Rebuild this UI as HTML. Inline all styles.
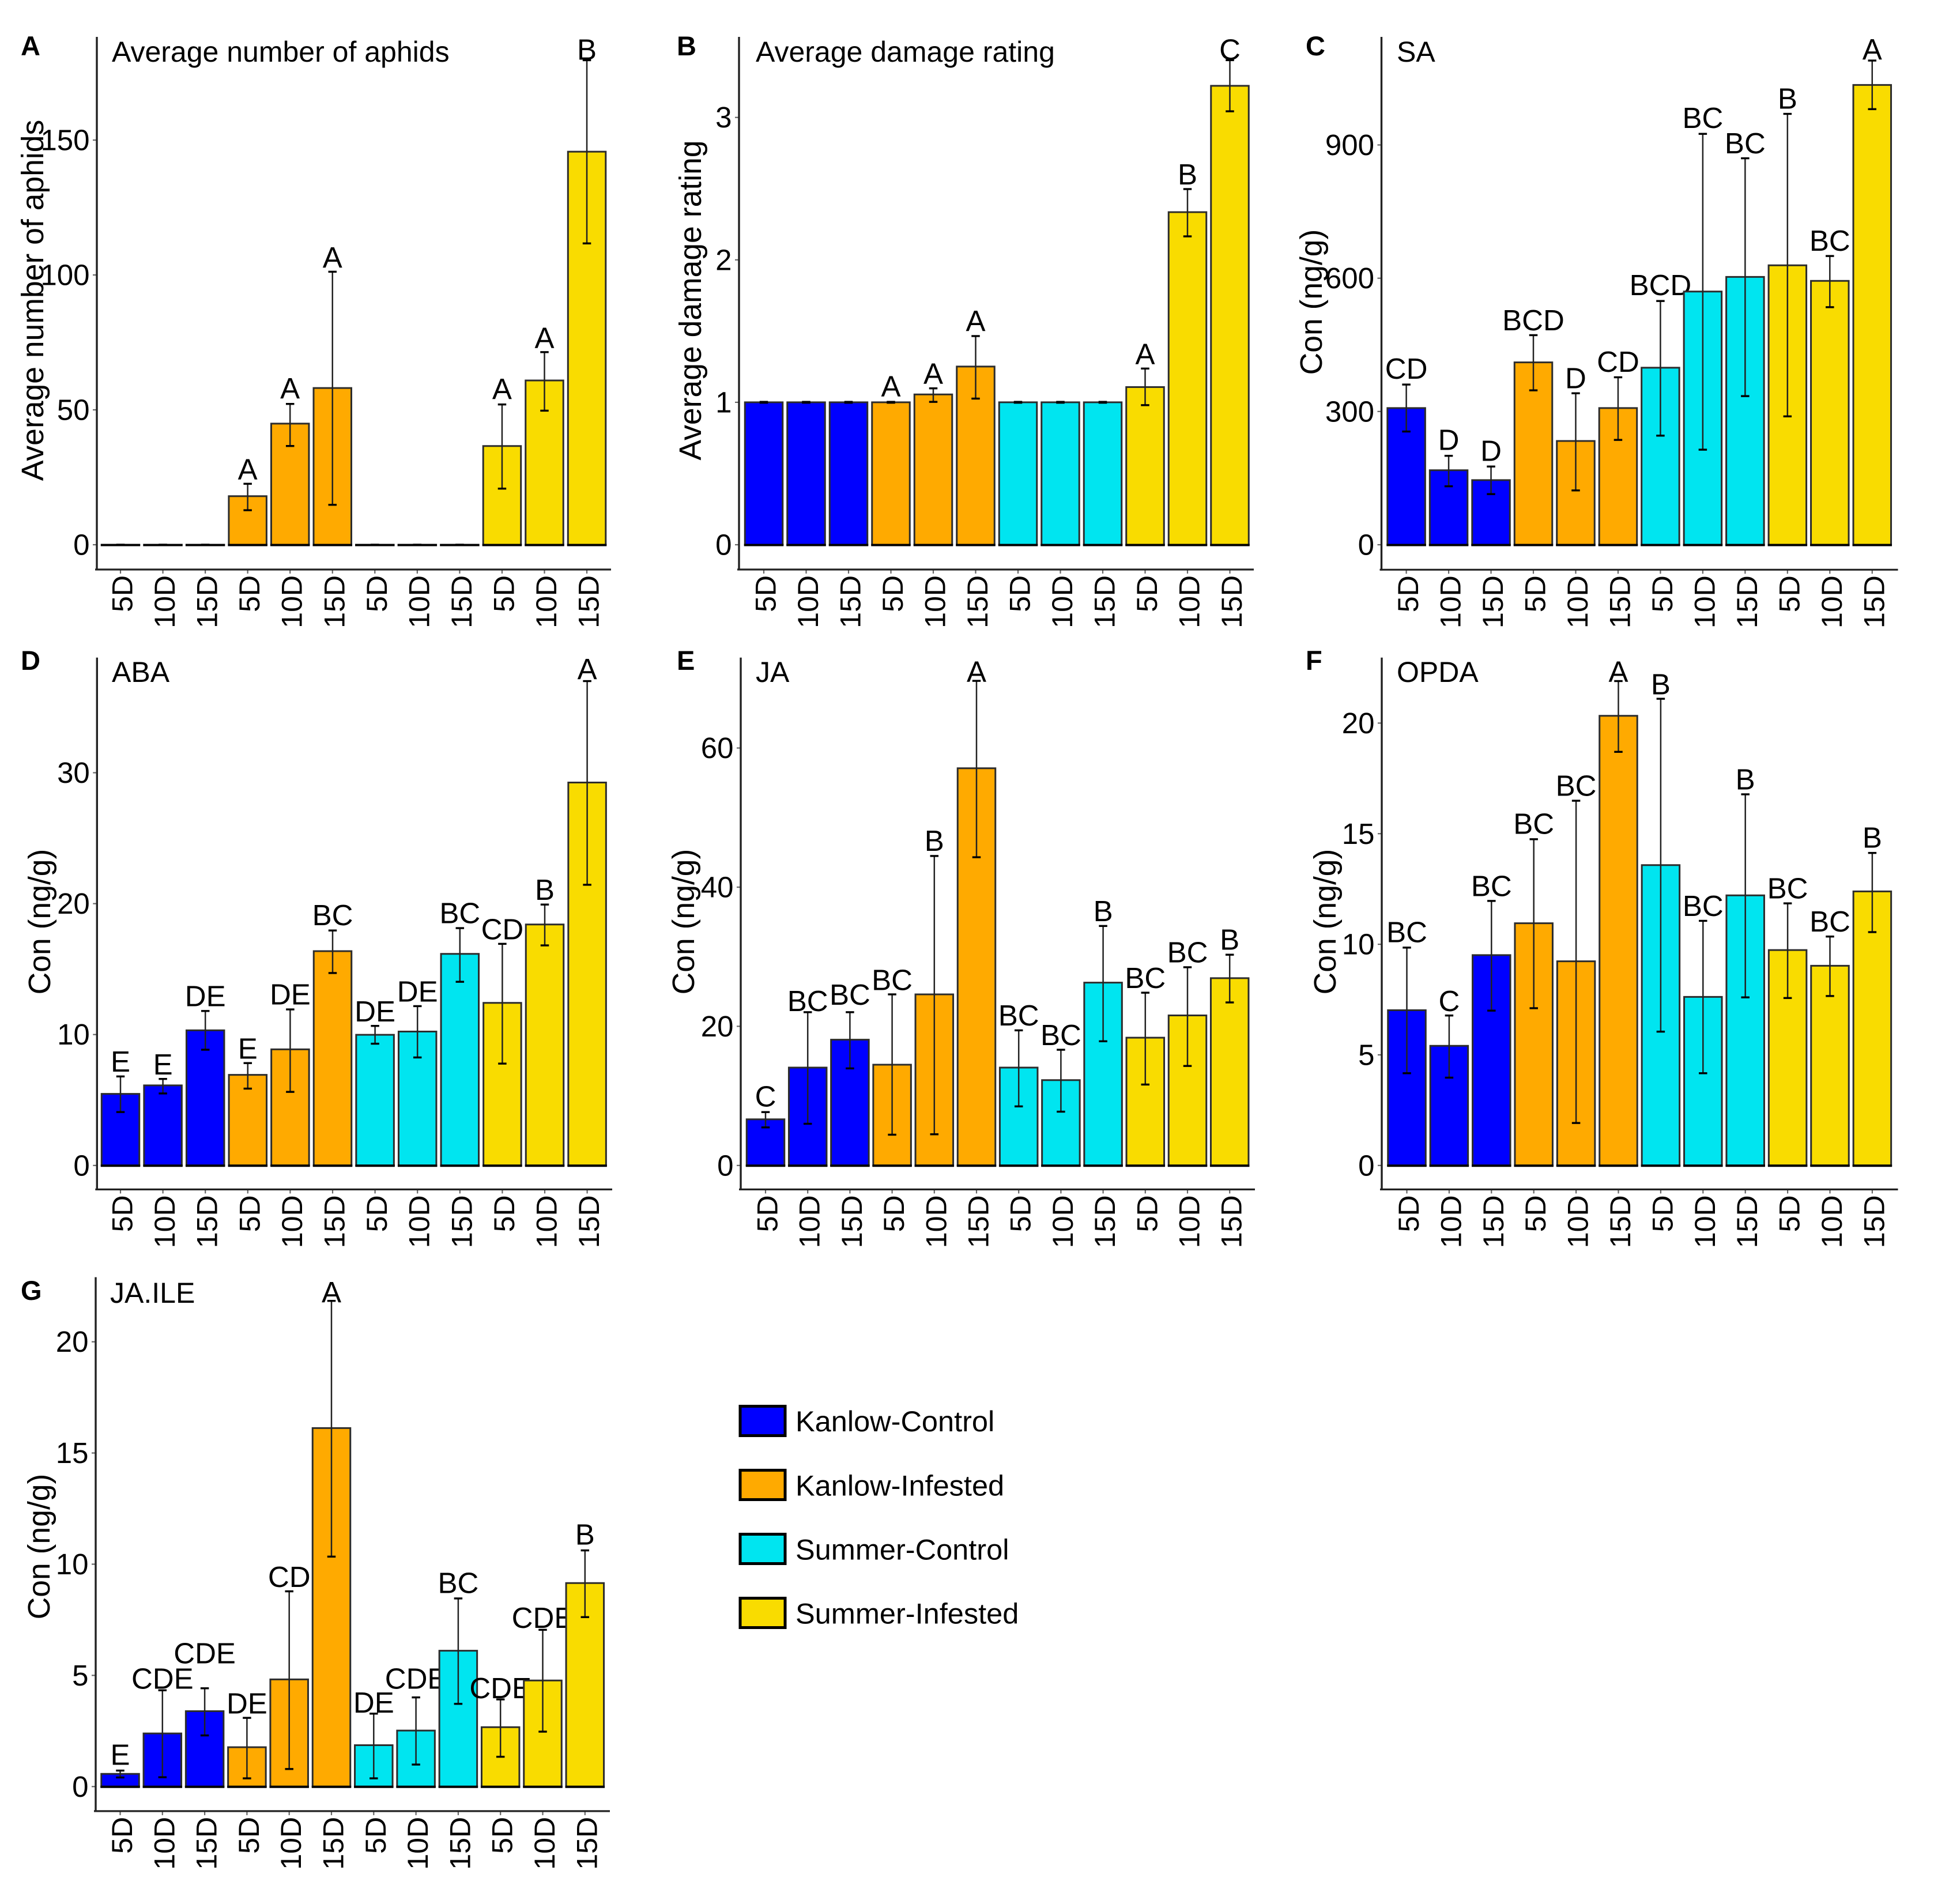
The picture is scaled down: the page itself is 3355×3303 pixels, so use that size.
<!DOCTYPE html>
<html lang="en">
<head>
<meta charset="utf-8">
<title>Aphid and phytohormone bar charts</title>
<style>
html,body{margin:0;padding:0;background:#fff}
svg{display:block}
text{font-family:"Liberation Sans",Arial,sans-serif;fill:#000}
.tick-label{font-size:51px}
.x-label{font-size:50px}
.axis-title{font-size:53.5px}
.panel-title{font-size:50px}
.panel-letter{font-size:47px;font-weight:bold}
.letter{font-size:51px}
.legend-label{font-size:50.5px}
</style>
</head>
<body>
<svg id="figure" xmlns="http://www.w3.org/2000/svg" width="3355" height="3303" viewBox="0 0 3355 3303">
<rect width="3355" height="3303" fill="#fff"/>

<g id="panel-a">
<text class="panel-letter" x="36" y="96">A</text>
<text class="panel-title" x="194" y="107">Average number of aphids</text>
<text class="axis-title" transform="translate(75,521) rotate(-90)" text-anchor="middle">Average number of aphids</text>
</g>
<g id="panel-b">
<text class="panel-letter" x="1174" y="96">B</text>
<text class="panel-title" x="1311" y="107">Average damage rating</text>
<text class="axis-title" transform="translate(1216,521) rotate(-90)" text-anchor="middle">Average damage rating</text>
</g>
<g id="panel-c">
<text class="panel-letter" x="2265" y="96">C</text>
<text class="panel-title" x="2423" y="107">SA</text>
<text class="axis-title" transform="translate(2293,524) rotate(-90)" text-anchor="middle">Con (ng/g)</text>
</g>
<g id="panel-d">
<text class="panel-letter" x="36" y="1162">D</text>
<text class="panel-title" x="194" y="1183">ABA</text>
<text class="axis-title" transform="translate(87,1599) rotate(-90)" text-anchor="middle">Con (ng/g)</text>
</g>
<g id="panel-e">
<text class="panel-letter" x="1174" y="1162">E</text>
<text class="panel-title" x="1311" y="1183">JA</text>
<text class="axis-title" transform="translate(1204,1599) rotate(-90)" text-anchor="middle">Con (ng/g)</text>
</g>
<g id="panel-f">
<text class="panel-letter" x="2265" y="1162">F</text>
<text class="panel-title" x="2423" y="1183">OPDA</text>
<text class="axis-title" transform="translate(2317,1599) rotate(-90)" text-anchor="middle">Con (ng/g)</text>
</g>
<g id="panel-g">
<text class="panel-letter" x="36" y="2255">G</text>
<text class="panel-title" x="191" y="2260">JA.ILE</text>
<text class="axis-title" transform="translate(86,2683) rotate(-90)" text-anchor="middle">Con (ng/g)</text>
</g>

<g id="legend">
<g>
<rect x="1284" y="2439.5" width="78" height="51" fill="#0000FF" stroke="#000" stroke-width="5"/>
<text class="legend-label" x="1380" y="2483">Kanlow-Control</text>
</g>
<g>
<rect x="1284" y="2550.5" width="78" height="51" fill="#FFAA00" stroke="#000" stroke-width="5"/>
<text class="legend-label" x="1380" y="2594.5">Kanlow-Infested</text>
</g>
<g>
<rect x="1284" y="2661.5" width="78" height="51" fill="#00E5F0" stroke="#000" stroke-width="5"/>
<text class="legend-label" x="1380" y="2705.5">Summer-Control</text>
</g>
<g>
<rect x="1284" y="2772.5" width="78" height="51" fill="#F9DC00" stroke="#000" stroke-width="5"/>
<text class="legend-label" x="1380" y="2816.5">Summer-Infested</text>
</g>
</g>
</svg>

<script>
// Shared categories
const timepoints = ['5D','10D','15D','5D','10D','15D','5D','10D','15D','5D','10D','15D'];
const groups = ['kanlow-control','kanlow-control','kanlow-control','kanlow-infested','kanlow-infested','kanlow-infested','summer-control','summer-control','summer-control','summer-infested','summer-infested','summer-infested'];

// Panel A: average number of aphids
const aphidTicks = [0,50,100,150];
const aphidMeans = [0,0,0,18.0,44.9,58.1,0,0,0,36.6,60.9,145.7];
const aphidHigh = [0,0,0,22.6,52.2,101.2,0,0,0,52.0,71.4,179.6];
const aphidLow = [0,0,0,12.8,36.6,14.8,0,0,0,20.8,49.7,111.7];
const aphidLetters = ['','','','A','A','A','','','','A','A','B'];
const aphidLetterY = [0,0,0,24.1,54.2,102.7,0,0,0,53.9,72.9,179.8];

// Panel B: average damage rating
const damageTicks = [0,1,2,3];
const damageMeans = [1,1,1,1.0,1.055,1.251,1,1,1,1.107,2.335,3.222];
const damageHigh = [1.003,1.003,1.003,1.003,1.098,1.465,1.003,1.003,1.003,1.237,2.497,3.402];
const damageLow = [0.997,0.997,0.997,0.997,1.003,1.026,0.997,0.997,0.997,0.98,2.165,3.043];
const damageLetters = ['','','','A','A','A','','','','A','B','C'];
const damageLetterY = [0,0,0,1.04,1.13,1.50,0,0,0,1.266,2.53,3.405];

// Panel C: SA
const saTicks = [0,300,600,900];
const saMeans = [307.7,167.8,145.5,410.6,233.6,307.7,398.6,570,603,629,594,1035];
const saHigh = [360.6,200.2,176.1,471.8,341,377,548.7,925,870,970,650,1090];
const saLow = [254.9,131.6,114,347.6,122.3,236,245.6,214,334.6,289,534.8,980.6];
const saLetters = ['CD','D','D','BCD','D','CD','BCD','BC','BC','B','BC','A'];
const saLetterY = [373.6,213.2,189,482.9,352,389,561.7,938,881,981.6,662,1092];

// Panel D: ABA
const abaTicks = [0,10,20,30];
const abaMeans = [5.47,6.12,10.32,6.92,8.87,16.37,9.98,10.23,16.16,12.42,18.41,29.25];
const abaHigh = [6.80,6.61,11.80,7.82,11.92,17.95,10.66,12.17,18.13,16.93,19.93,37.0];
const abaLow = [4.08,5.50,8.84,5.87,5.62,14.70,9.30,8.25,14.03,7.78,16.81,21.44];
const abaLetters = ['E','E','DE','E','DE','BC','DE','DE','BC','CD','B','A'];
const abaLetterY = [7.17,6.95,12.17,8.16,12.30,18.35,11.0,12.51,18.5,17.27,20.3,37.13];

// Panel E: JA
const jaTicks = [0,20,40,60];
const jaMeans = [6.63,14.07,18.08,14.48,24.59,57.09,14.07,12.27,26.28,18.37,21.57,26.92];
const jaHigh = [7.67,22.03,22.03,24.59,44.48,69.65,19.42,16.63,34.42,24.83,28.49,30.29];
const jaLow = [5.47,5.99,13.95,4.42,4.48,44.3,8.49,7.73,17.85,11.63,14.3,23.43];
const jaLetters = ['C','BC','BC','BC','B','A','BC','BC','B','BC','BC','B'];
const jaLetterY = [8.49,22.2,23.08,25.2,45.2,69.5,20.1,17.3,35.1,25.5,29.2,31];

// Panel F: OPDA
const opdaTicks = [0,5,10,15,20];
const opdaMeans = [7.02,5.41,9.51,10.95,9.23,20.33,13.58,7.62,12.21,9.74,9.03,12.39];
const opdaHigh = [9.85,6.78,11.96,14.75,16.49,21.9,21.1,11.06,16.78,11.85,10.35,14.13];
const opdaLow = [4.17,3.97,7.0,7.11,1.92,18.7,6.05,4.17,7.6,7.57,7.66,10.55];
const opdaLetters = ['BC','C','BC','BC','BC','A','B','BC','B','BC','BC','B'];
const opdaLetterY = [10.09,6.98,12.18,14.99,16.71,21.86,21.3,11.28,17.0,12.07,10.57,14.37];

// Panel G: JA.ILE
const jaIleTicks = [0,5,10,15,20];
const jaIleMeans = [0.57,2.39,3.39,1.77,4.82,16.12,1.86,2.52,6.11,2.67,4.77,9.15];
const jaIleHigh = [0.72,4.33,4.42,3.09,8.78,21.84,3.28,4.01,8.46,3.92,7.05,10.62];
const jaIleLow = [0.41,0.42,2.30,0.37,0.79,10.34,0.37,0.99,3.72,1.34,2.47,7.62];
const jaIleLetters = ['E','CDE','CDE','DE','CD','A','DE','CDE','BC','CDE','CDE','B'];
const jaIleLetterY = [0.98,4.40,5.54,3.29,8.98,21.77,3.33,4.40,8.70,3.97,7.14,10.88];

const fillFor = {'kanlow-control':'#0000FF','kanlow-infested':'#FFAA00','summer-control':'#00E5F0','summer-infested':'#F9DC00'};
const NS = 'http://www.w3.org/2000/svg';

function node(parent, tag, attrs, text) {
  const el = document.createElementNS(NS, tag);
  for (const k in attrs) el.setAttribute(k, attrs[k]);
  if (text !== undefined) el.textContent = text;
  parent.appendChild(el);
  return el;
}

function drawPanel(cfg, ticks, means, high, low, letters, letterY) {
  const root = document.getElementById(cfg.id);
  const xPos = i => cfg.x0 + i * cfg.dx;
  const yPos = v => cfg.y0 - v * cfg.k;
  const barW = 65.5, capW = 14.5;

  timepoints.forEach((label, i) => {
    const cx = xPos(i), top = yPos(means[i]), base = yPos(0);
    const bar = node(root, 'path', {
      d: 'M' + (cx - barW / 2) + ' ' + base + 'L' + (cx - barW / 2) + ' ' + top + 'L' + (cx + barW / 2) + ' ' + top + 'L' + (cx + barW / 2) + ' ' + base + 'Z',
      fill: fillFor[groups[i]], stroke: '#2c2c2c', 'stroke-width': 3
    });
    
    

    const baseLine = node(root, 'line', {x1: cx - barW / 2 - 1.5, x2: cx + barW / 2 + 1.5, y1: base + 0.5, y2: base + 0.5, stroke: '#000', 'stroke-width': 4});
    
    

    const stem = node(root, 'line', {x1: cx, x2: cx, y1: yPos(high[i]), y2: yPos(low[i]), stroke: '#222', 'stroke-width': 2.5});
    
    

    const capHigh = node(root, 'line', {x1: cx - capW / 2, x2: cx + capW / 2, y1: yPos(high[i]), y2: yPos(high[i]), stroke: '#000', 'stroke-width': 3.4});
    
    

    const capLow = node(root, 'line', {x1: cx - capW / 2, x2: cx + capW / 2, y1: yPos(low[i]), y2: yPos(low[i]), stroke: '#000', 'stroke-width': 3.4});
    
    

    if (letters[i]) {
      const sig = node(root, 'text', {class: 'letter', x: cx, y: yPos(letterY[i]), 'text-anchor': 'middle'}, letters[i]);
      
      
    }

    const xt = node(root, 'line', {x1: cx, x2: cx, y1: cfg.axisY, y2: cfg.axisY + 7, stroke: '#666', 'stroke-width': 2.2});
    
    

    const xl = node(root, 'text', {class: 'x-label', transform: 'translate(' + (cx + 20.5) + ',' + (cfg.axisY + 10) + ') rotate(-90)', 'text-anchor': 'end'}, label);
    
    
  });

  ticks.forEach(t => {
    const y = yPos(t);
    const yt = node(root, 'line', {x1: cfg.axisX - 7, x2: cfg.axisX, y1: y, y2: y, stroke: '#666', 'stroke-width': 2.2});
    
    

    const yl = node(root, 'text', {class: 'tick-label', x: cfg.axisX - 12.5, y: y + 17.5, 'text-anchor': 'end'}, String(t));
    
    
  });

  const yAxis = node(root, 'line', {x1: cfg.axisX, x2: cfg.axisX, y1: cfg.top, y2: cfg.axisY + 1.5, stroke: '#222', 'stroke-width': 3.4});
  
  

  const xAxis = node(root, 'line', {x1: cfg.axisX - 3, x2: cfg.right, y1: cfg.axisY, y2: cfg.axisY, stroke: '#222', 'stroke-width': 3.2});
  
  
}

drawPanel({id:'panel-a',key:'a',axisX:168,top:64,axisY:988,right:1060,x0:209,dx:73.55,y0:945,k:4.68}, aphidTicks, aphidMeans, aphidHigh, aphidLow, aphidLetters, aphidLetterY);
drawPanel({id:'panel-b',key:'b',axisX:1282,top:64,axisY:988,right:2175,x0:1325,dx:73.5,y0:945,k:247.1}, damageTicks, damageMeans, damageHigh, damageLow, damageLetters, damageLetterY);
drawPanel({id:'panel-c',key:'c',axisX:2396.5,top:64,axisY:988.3,right:3292.5,x0:2439.6,dx:73.47,y0:945,k:0.7706}, saTicks, saMeans, saHigh, saLow, saLetters, saLetterY);
drawPanel({id:'panel-d',key:'d',axisX:168.3,top:1140.7,axisY:2063.4,right:1062,x0:209,dx:73.6,y0:2021.8,k:22.71}, abaTicks, abaMeans, abaHigh, abaLow, abaLetters, abaLetterY);
drawPanel({id:'panel-e',key:'e',axisX:1285,top:1140.7,axisY:2063.4,right:2177,x0:1328,dx:73.2,y0:2021.8,k:12.07}, jaTicks, jaMeans, jaHigh, jaLow, jaLetters, jaLetterY);
drawPanel({id:'panel-f',key:'f',axisX:2397,top:1140.7,axisY:2063.4,right:3292.5,x0:2440.5,dx:73.4,y0:2021.8,k:38.37}, opdaTicks, opdaMeans, opdaHigh, opdaLow, opdaLetters, opdaLetterY);
drawPanel({id:'panel-g',key:'g',axisX:166,top:2215.6,axisY:3141.9,right:1058,x0:208.5,dx:73.3,y0:3099.3,k:38.58}, jaIleTicks, jaIleMeans, jaIleHigh, jaIleLow, jaIleLetters, jaIleLetterY);
</script>
</body>
</html>
